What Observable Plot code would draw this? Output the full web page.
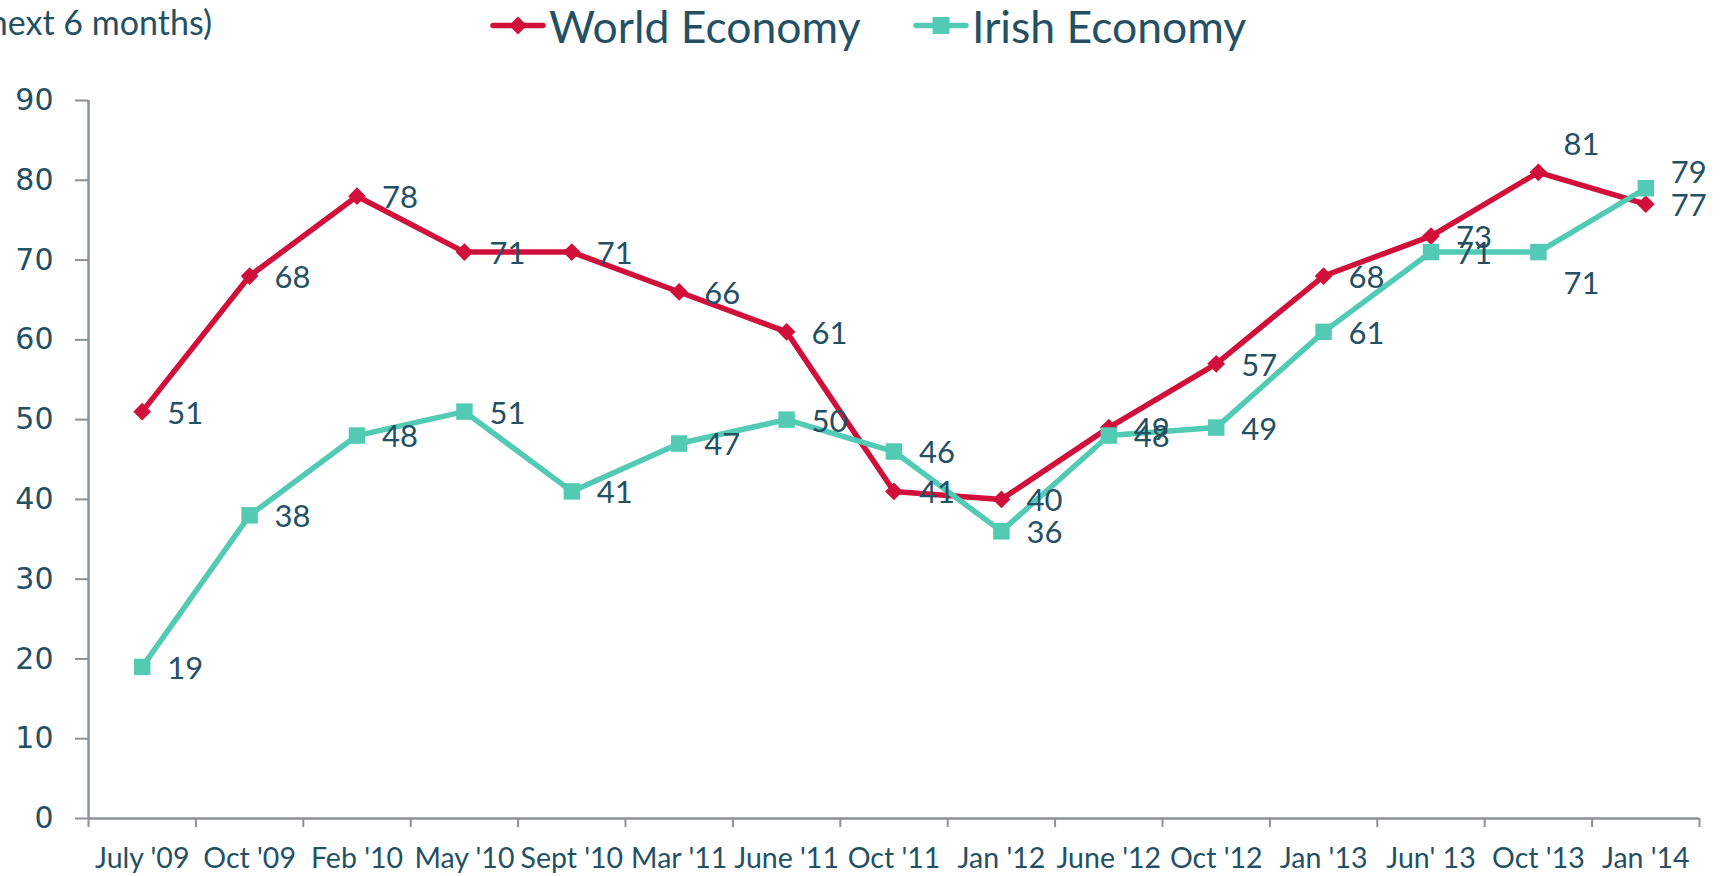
<!DOCTYPE html>
<html><head><meta charset="utf-8">
<script src="https://cdn.jsdelivr.net/npm/d3@7"></script>
<script src="https://cdn.jsdelivr.net/npm/@observablehq/plot@0.6"></script>
<style>
html,body{margin:0;padding:0;background:#fff;width:1720px;height:876px;overflow:hidden;position:relative}
.hum{font-family:Lato,"Noto Sans",sans-serif;color:#245064;white-space:nowrap}
#title{position:absolute;right:1508px;top:5px;font-size:34px;line-height:34px}
.leg{position:absolute;top:0px;display:flex;align-items:flex-start;font-size:44.5px;line-height:52px}
.leg svg{margin-right:3px}
#chart{position:absolute;left:0;top:0}
</style></head>
<body>
<div id="title" class="hum">next 6 months)</div>
<div id="legend"></div>
<div id="chart"></div>
<script>
const categories = ["July '09","Oct '09","Feb '10","May '10","Sept '10","Mar '11","June '11","Oct '11","Jan '12","June '12","Oct '12","Jan '13","Jun' 13","Oct '13","Jan '14"];
const worldEconomy = [51,68,78,71,71,66,61,41,40,49,57,68,73,81,77];
const irishEconomy = [19,38,48,51,41,47,50,46,36,48,49,61,71,71,79];
const seriesNames = ["World Economy","Irish Economy"];
const yTicks = [0,10,20,30,40,50,60,70,80,90];

const RED = "#D0103A", TEAL = "#52CAB4", TEXT = "#245064", AXIS = "#8A9297";
const HUM = 'Lato,"Noto Sans",sans-serif';

const rows = [];
categories.forEach((c, i) => {
  rows.push({series: seriesNames[0], i, cat: c, value: worldEconomy[i]});
  rows.push({series: seriesNames[1], i, cat: c, value: irishEconomy[i]});
});
const world = rows.filter(d => d.series === seriesNames[0]);
const irish = rows.filter(d => d.series === seriesNames[1]);
const idx = d3.range(categories.length);
const bounds = d3.range(categories.length + 1).map(i => i - 0.5);

// label vertical nudges (style only)
const labelDy = {"World Economy|13": -27, "Irish Economy|14": -15, "Irish Economy|13": 32};
const dyOf = d => labelDy[d.series + "|" + d.i] ?? 2;
const dyGroups = [...new Set(rows.map(dyOf))];

const chart = Plot.plot({
  width: 1720, height: 876,
  marginTop: 100, marginBottom: 58, marginLeft: 88, marginRight: 21,
  x: {type: "linear", domain: [-0.5, categories.length - 0.5]},
  y: {domain: [0, 90]},
  color: {domain: seriesNames, range: [RED, TEAL]},
  style: {background: "transparent", overflow: "visible"},
  marks: [
    Plot.ruleY([0], {x1: -0.5, x2: categories.length - 0.5, stroke: AXIS, strokeWidth: 2.5}),
    Plot.ruleX([-0.5], {y1: 0, y2: 90, stroke: AXIS, strokeWidth: 2.5}),
    Plot.axisY(yTicks, {anchor: "left", tickSize: 13, tickPadding: 22, stroke: AXIS, strokeWidth: 2, fill: TEXT, fontSize: 30, fontFamily: "DejaVu Sans", label: null}),
    Plot.axisX(bounds, {anchor: "bottom", tickSize: 9, stroke: AXIS, strokeWidth: 2, fill: "none", label: null}),
    Plot.axisX(idx, {anchor: "bottom", tickSize: 0, tickPadding: 29, fill: TEXT, fontSize: 28.5, fontFamily: HUM, tickFormat: i => categories[i], label: null}),
    Plot.line(world, {x: "i", y: "value", stroke: "series", strokeWidth: 5.5, strokeLinejoin: "round"}),
    Plot.dot(world, {x: "i", y: "value", symbol: "diamond2", r: 8, fill: RED, stroke: "none"}),
    Plot.line(irish, {x: "i", y: "value", stroke: "series", strokeWidth: 5.5, strokeLinejoin: "round"}),
    Plot.dot(irish, {x: "i", y: "value", symbol: "square", r: 9.3, fill: TEAL, stroke: "none"}),
    ...dyGroups.map(g => Plot.text(rows.filter(d => dyOf(d) === g), {
      x: "i", y: "value", text: d => String(d.value), dx: 25, dy: g,
      textAnchor: "start", fill: TEXT, fontSize: 31, fontFamily: HUM
    }))
  ]
});
document.getElementById("chart").appendChild(chart);

// legend
const legend = document.getElementById("legend");
const legItems = [
  {name: seriesNames[0], color: RED, shape: "diamond", left: 490},
  {name: seriesNames[1], color: TEAL, shape: "square", left: 913}
];
legItems.forEach(it => {
  const div = document.createElement("div");
  div.className = "leg hum";
  div.style.left = it.left + "px";
  const svg = d3.create("svg").attr("width", 56).attr("height", 52);
  svg.append("line").attr("x1", 3).attr("x2", 53).attr("y1", 25.5).attr("y2", 25.5)
    .attr("stroke", it.color).attr("stroke-width", 5.5).attr("stroke-linecap", "round");
  if (it.shape === "diamond") {
    svg.append("path").attr("d", "M28,16.5L37,25.5L28,34.5L19,25.5Z").attr("fill", it.color);
  } else {
    svg.append("rect").attr("x", 19.5).attr("y", 17).attr("width", 17).attr("height", 17).attr("fill", it.color);
  }
  div.appendChild(svg.node());
  const span = document.createElement("span");
  span.textContent = it.name;
  div.appendChild(span);
  legend.appendChild(div);
});
</script>
</body></html>
